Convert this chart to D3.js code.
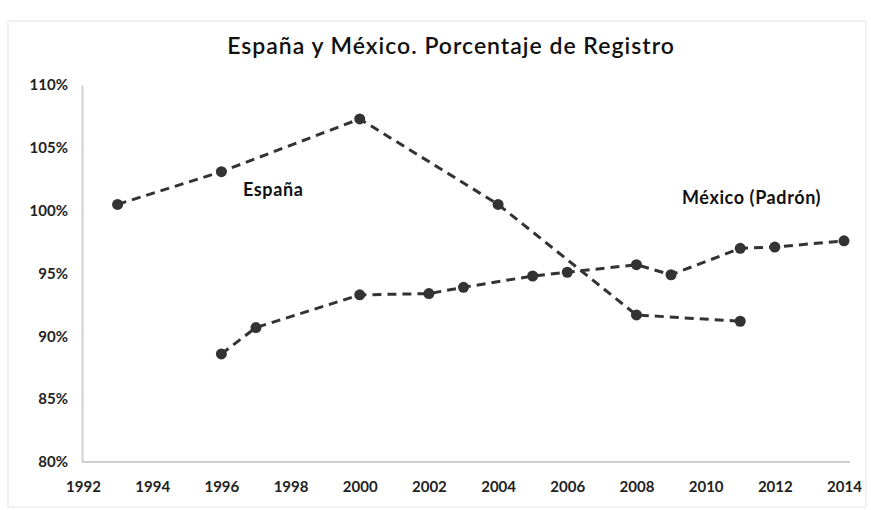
<!DOCTYPE html>
<html>
<head>
<meta charset="utf-8">
<script src="https://cdn.jsdelivr.net/npm/d3@7"></script>
<style>
  body { margin: 0; background: #fff; }
  svg { display: block; }
  .tick text { font-family: Lato, "Open Sans", sans-serif; font-weight: 700; font-size: 15px; fill: #222; }
</style>
</head>
<body>
<svg id="chart" width="871" height="510"></svg>
<script>
const years = [1992, 1994, 1996, 1998, 2000, 2002, 2004, 2006, 2008, 2010, 2012, 2014];
const pctTicks = [0.80, 0.85, 0.90, 0.95, 1.00, 1.05, 1.10];

const espanaYears = [1993, 1996, 2000, 2004, 2008, 2011];
const espanaVals = [1.005, 1.031, 1.073, 1.005, 0.917, 0.912];

const mexicoYears = [1996, 1997, 2000, 2002, 2003, 2005, 2006, 2008, 2009, 2011, 2012, 2014];
const mexicoVals = [0.886, 0.907, 0.933, 0.934, 0.939, 0.948, 0.951, 0.957, 0.949, 0.970, 0.971, 0.976];

var svg = d3.select("#chart");

var x = d3.scaleLinear().domain([1992, 2014]).range([83, 844]);
var y = d3.scaleLinear().domain([0.8, 1.1]).range([462, 85]);

// faint frame of the scanned chart
svg.append("rect")
  .attr("x", 8).attr("y", 21).attr("width", 858).attr("height", 486)
  .attr("fill", "none").attr("stroke", "#e4e4e4").attr("stroke-width", 1);

svg.append("text")
  .attr("x", 451)
  .attr("y", 54)
  .attr("text-anchor", "middle")
  .style("font-family", "Lato, 'Open Sans', sans-serif")
  .style("font-size", "23px")
  .style("font-weight", 600)
  .style("letter-spacing", "1px")
  .attr("fill", "#111")
  .text("España y México. Porcentaje de Registro");

var yAxis = svg.append("g")
  .attr("transform", "translate(82,0)")
  .call(d3.axisLeft(y).tickValues(pctTicks).tickSize(0).tickPadding(14).tickFormat(d3.format(".0%")));

var xAxis = svg.append("g")
  .attr("transform", "translate(0,462)")
  .call(d3.axisBottom(x).tickValues(years).tickSize(0).tickPadding(19).tickFormat(d3.format("d")));

yAxis.select(".domain").attr("stroke", "#cfcfcf").attr("stroke-width", 2);
xAxis.select(".domain").attr("stroke", "#cfcfcf").attr("stroke-width", 2).attr("d", "M82,0H850");

function drawSeries(ys, vs) {
  var pts = ys.map((yr, i) => ({ year: yr, v: vs[i] }));
  var line = d3.line().x(d => x(d.year)).y(d => y(d.v));

  svg.append("path")
    .datum(pts)
    .attr("fill", "none")
    .attr("stroke", "#333")
    .attr("stroke-width", 3)
    .attr("stroke-dasharray", "9,6")
    .attr("d", line);

  svg.selectAll(null)
    .data(pts)
    .enter()
    .append("circle")
    .attr("cx", d => x(d.year))
    .attr("cy", d => y(d.v))
    .attr("r", 5.5)
    .attr("fill", "#333");
}

drawSeries(espanaYears, espanaVals);
drawSeries(mexicoYears, mexicoVals);

svg.append("text")
  .attr("x", 243).attr("y", 196)
  .style("font-family", "Lato, 'Open Sans', sans-serif")
  .style("font-size", "18px").style("font-weight", 700)
  .style("letter-spacing", "0.6px")
  .attr("fill", "#111")
  .text("España");

svg.append("text")
  .attr("x", 682).attr("y", 204)
  .style("font-family", "Lato, 'Open Sans', sans-serif")
  .style("font-size", "18px").style("font-weight", 700)
  .style("letter-spacing", "0.6px")
  .attr("fill", "#111")
  .text("México (Padrón)");
</script>
</body>
</html>
